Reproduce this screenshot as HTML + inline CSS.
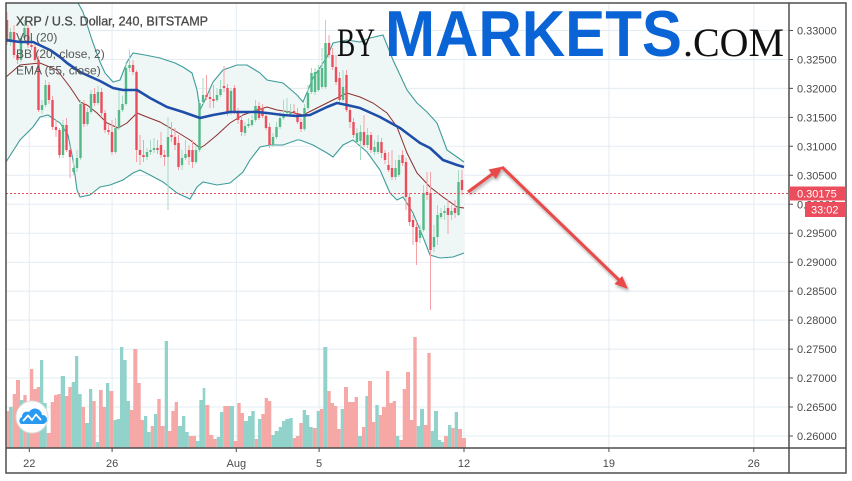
<!DOCTYPE html>
<html><head><meta charset="utf-8"><style>
html,body{margin:0;padding:0;background:#fff;}
svg{display:block;}
text{font-family:"Liberation Sans",sans-serif;}
</style></head><body>
<svg width="852" height="481" viewBox="0 0 852 481" xmlns="http://www.w3.org/2000/svg">
<defs>
<clipPath id="c"><rect x="6" y="3" width="783" height="445"/></clipPath>
<filter id="sh" x="-20%" y="-20%" width="140%" height="140%"><feGaussianBlur in="SourceAlpha" stdDeviation="1.5"/><feOffset dx="1" dy="2"/><feComponentTransfer><feFuncA type="linear" slope="0.35"/></feComponentTransfer><feMerge><feMergeNode/><feMergeNode in="SourceGraphic"/></feMerge></filter>
</defs>
<rect width="852" height="481" fill="#fff"/>
<g stroke="#e3ecf3" stroke-width="1">
<path d="M29.3 3V448M112.1 3V448M236.3 3V448M319.1 3V448M464 3V448M608.9 3V448M753.8 3V448"/>
<path d="M6 30.5H789M6 59.5H789M6 88.4H789M6 117.4H789M6 146.3H789M6 175.3H789M6 204.3H789M6 233.2H789M6 262.2H789M6 291.1H789M6 320.1H789M6 349.1H789M6 378H789M6 407H789M6 436H789"/>
</g>
<g clip-path="url(#c)">
<polygon fill="#eff6f6" points="6,-30 40,-20 70,-5 78,3 83,12 92,40 100,62 105,73 113,82 120,80 127,62 133,53 145,55 160,58 175,63 183,67 192,73 197,90 200,110 205,100 213,82 223,70 237,65 247,65 260,73 267,80 283,83 297,95 303,102 313,78 327,57 333,43 347,40 360,42 370,38 383,35 393,60 407,90 417,103 427,112 437,123 447,150 457,157 464,162 464,253 453,257 440,258 430,255 423,237 413,213 403,197 397,200 390,193 380,170 367,152 353,140 343,145 333,157 327,153 313,145 300,140 297,140 283,145 270,145 260,147 250,160 243,172 230,183 217,185 203,182 197,187 190,199 177,193 163,182 150,175 140,170 133,173 123,180 110,185 100,187 90,195 80,197 77,190 73,160 68,135 60,123 48,115 40,117 33,127 20,140 6,162"/>
<path fill="#f6a8a7" d="M6.7 411H9V448H6.7zM12.7 394H16V448H12.7zM16 380H20V448H16zM23.3 395H26.7V448H23.3zM30 369H33.3V448H30zM33.3 389H36.7V448H33.3zM36.7 387H40V448H36.7zM46.7 433H50.7V448H46.7zM50.7 402H54V448H50.7zM54 395H57.3V448H54zM57.3 394H60.7V448H57.3zM65 396H68.3V448H65zM68.3 387H71.7V448H68.3zM81.7 407H85V448H81.7zM92.3 401H95.7V448H92.3zM99 390H102.7V448H99zM102.7 407H106V448H102.7zM109.3 391H113.3V448H109.3zM130 410H133.3V448H130zM133.3 349H137.3V448H133.3zM137.3 383H140.7V448H137.3zM140.7 420H144V448H140.7zM150.7 426H154V448H150.7zM157.3 399H160.7V448H157.3zM160.7 426H164.7V448H160.7zM168 431H171.3V448H168zM171.3 411H174.7V448H171.3zM174.7 402H178V448H174.7zM188.7 436H196V448H188.7zM205.3 405H209.3V448H205.3zM209.3 435H213.3V448H209.3zM213.3 439H216.7V448H213.3zM223.3 406H230V448H223.3zM234 441H237.3V448H234zM237.3 403H240.7V448H237.3zM240.7 413H244V448H240.7zM254.7 439H258V448H254.7zM261.3 414H264.7V448H261.3zM264.7 398H268V448H264.7zM268 401H271.3V448H268zM292.7 438H296V448H292.7zM296 436H299.3V448H296zM299.3 423H302.7V448H299.3zM312.7 428H316.7V448H312.7zM320 409H323.3V448H320zM327.3 391H330.7V448H327.3zM330.7 403H334V448H330.7zM334 406H337.3V448H334zM337.3 429H340.7V448H337.3zM344 387H348V448H344zM348 402H354.7V448H348zM354.7 397H358V448H354.7zM362 427H365.3V448H362zM368 381H372V448H368zM372 422H375.3V448H372zM378.7 415H382V448H378.7zM382 407H386V448H382zM386 371H389.3V448H386zM389.3 403H392.7V448H389.3zM392.7 401H396V448H392.7zM399.3 440H402.7V448H399.3zM402.7 389H406V448H402.7zM406 372H410V448H406zM410 420H413.3V448H410zM413.3 337H416.7V448H413.3zM424 425H427.3V448H424zM427.3 353H430.7V448H427.3zM444 436H448V448H444zM451.3 428H454.7V448H451.3zM458 429H462V448H458zM462 438H466V448H462z"/>
<path fill="#91d3ca" d="M9 407H12.7V448H9zM20 400H23.3V448H20zM26.7 410H30V448H26.7zM40 360H43.3V448H40zM43.3 403H46.7V448H43.3zM60.7 376H65V448H60.7zM71.7 382H75V448H71.7zM75 356H78.3V448H75zM78.3 394H81.7V448H78.3zM85 423H89V448H85zM89 389H92.3V448H89zM95.7 442H99V448H95.7zM106 383H109.3V448H106zM113.3 420H116.7V448H113.3zM116.7 419H120V448H116.7zM120 347H123.3V448H120zM123.3 360H126.7V448H123.3zM126.7 401H130V448H126.7zM144 416H147.3V448H144zM147.3 432H150.7V448H147.3zM154 414H157.3V448H154zM164.7 341H168V448H164.7zM178 426H182V448H178zM182 416H185.3V448H182zM185.3 432H188.7V448H185.3zM196 441H199.3V448H196zM199.3 400H202.7V448H199.3zM202.7 388H205.3V448H202.7zM216.7 437H220V448H216.7zM220 412H223.3V448H220zM230 406H234V448H230zM244 421H248V448H244zM248 416H251.3V448H248zM251.3 411H254.7V448H251.3zM258 419H261.3V448H258zM271.3 435H274.7V448H271.3zM274.7 431H278.7V448H274.7zM278.7 427H282V448H278.7zM282 421H285.3V448H282zM285.3 419H289.3V448H285.3zM289.3 418H292.7V448H289.3zM302.7 410H306V448H302.7zM306 415H309.3V448H306zM309.3 427H312.7V448H309.3zM316.7 411H320V448H316.7zM323.3 347H327.3V448H323.3zM340.7 409H344V448H340.7zM358 436H362V448H358zM365.3 396H368V448H365.3zM375.3 405H378.7V448H375.3zM396 436H399.3V448H396zM416.7 426H420V448H416.7zM420 409H424V448H420zM430.7 431H434V448H430.7zM434 411H438V448H434zM438 440H441.3V448H438zM441.3 442H444V448H441.3zM448 425H451.3V448H448zM454.7 412H458V448H454.7z"/>
<polyline fill="none" stroke="#3d9c9a" stroke-width="1.1" points="6,-30 40,-20 70,-5 78,3 83,12 92,40 100,62 105,73 113,82 120,80 127,62 133,53 145,55 160,58 175,63 183,67 192,73 197,90 200,110 205,100 213,82 223,70 237,65 247,65 260,73 267,80 283,83 297,95 303,102 313,78 327,57 333,43 347,40 360,42 370,38 383,35 393,60 407,90 417,103 427,112 437,123 447,150 457,157 464,162"/>
<polyline fill="none" stroke="#3d9c9a" stroke-width="1.1" points="6,162 20,140 33,127 40,117 48,115 60,123 68,135 73,160 77,190 80,197 90,195 100,187 110,185 123,180 133,173 140,170 150,175 163,182 177,193 190,199 197,187 203,182 217,185 230,183 243,172 250,160 260,147 270,145 283,145 297,140 300,140 313,145 327,153 333,157 343,145 353,140 367,152 380,170 390,193 397,200 403,197 413,213 423,237 430,255 440,258 453,257 464,253"/>
<polyline fill="none" stroke="#8b2e2e" stroke-width="1" points="6,77 20,65 40,63 57,70 70,87 80,102 87,105 97,113 107,123 118,128 127,123 137,113 147,117 160,122 177,132 190,140 200,148 205,145 217,135 230,123 243,115 257,110 267,107 277,110 290,112 303,115 313,110 327,103 337,98 347,93 360,97 373,103 387,113 397,127 407,153 417,173 430,187 443,197 457,207 464,208"/>
<path stroke="#f4a2a8" stroke-width="1" fill="none" d="M7 12V45M14 25V58M17.5 50V64M28 25V48M31.5 40V50M35 44V62M38.5 56V112M49 82V104M52.5 96V130M56 120V137M59.5 128V158M66.5 118V152M70 146V178M84 100V127M94.5 88V106M101.5 88V116M105 110V133M108.5 125V135M112 120V155M133 60V75M136.5 70V162M140 135V165M143.5 140V162M157.5 140V154M161 132V158M164.5 150V166M171.5 122V142M175 128V150M178.5 135V170M189 145V165M192.5 140V168M206.5 75V100M210 90V108M213.5 85V108M224 66V92M227.5 84V116M234.5 85V114M238 108V124M241.5 115V136M259 102V120M262.5 104V118M266 112V130M269.5 123V148M294 104V116M297.5 108V124M301 118V132M329 35V58M332.5 48V70M336 55V85M339.5 72V104M346.5 70V112M350 105V128M353.5 118V138M364 115V147M371 132V153M381.5 138V158M385 150V164M388.5 152V172M392 150V180M402.5 150V166M406 158V210M409.5 193V226M413 215V245M416.5 222V265M427 172V200M430.5 172V310M448 200V234M455 200V218M462 170V195"/>
<path stroke="#a6dbc2" stroke-width="1" fill="none" d="M10.5 28V46M21 36V62M24.5 20V40M42 100V114M45.5 80V107M63 120V158M73.5 160V175M77 150V172M80.5 100V160M87.5 108V126M91 90V114M98 86V105M115.5 118V154M119 90V130M122.5 96V112M126 62V106M129.5 50V72M147 148V160M150.5 140V155M154 138V153M168 117V210M182 150V170M185.5 140V160M196 145V164M199.5 100V152M203 78V104M217 88V102M220.5 80V97M231 88V115M245 122V136M248.5 118V128M252 115V127M255.5 100V122M273 133V147M276.5 122V139M280 112V129M283.5 100V120M287 98V115M290.5 104V115M304.5 104V131M308 85V110M311.5 68V94M315 68V95M318.5 65V92M322 48V89M325.5 20V89M343 70V102M357 128V144M360.5 125V160M367.5 128V148M374.5 140V155M378 135V154M395.5 160V180M399 155V177M420 225V243M423.5 185V232M434 225V252M437.5 205V245M441 208V219M444.5 205V220M451.5 205V220M458.5 170V216"/>
<path fill="#eb4d5c" d="M5.8 20h2.4V42h-2.4zM12.8 32h2.4V55h-2.4zM16.3 55h2.4V60h-2.4zM26.8 28h2.4V45h-2.4zM30.3 45h2.4V47h-2.4zM33.8 47h2.4V60h-2.4zM37.3 60h2.4V110h-2.4zM47.8 85h2.4V100h-2.4zM51.3 100h2.4V127h-2.4zM54.8 127h2.4V130h-2.4zM58.3 130h2.4V155h-2.4zM65.3 125h2.4V150h-2.4zM68.8 150h2.4V157h-2.4zM82.8 104h2.4V124h-2.4zM93.3 94h2.4V103h-2.4zM100.3 92h2.4V113h-2.4zM103.8 113h2.4V130h-2.4zM107.3 130h2.4V132h-2.4zM110.8 132h2.4V152h-2.4zM131.8 65h2.4V72h-2.4zM135.3 72h2.4V150h-2.4zM138.8 150h2.4V155h-2.4zM142.3 155h2.4V157h-2.4zM156.3 148h2.4V150h-2.4zM159.8 145h2.4V155h-2.4zM163.3 155h2.4V157h-2.4zM170.3 135h2.4V137h-2.4zM173.8 137h2.4V145h-2.4zM177.3 143h2.4V167h-2.4zM187.8 150h2.4V157h-2.4zM191.3 150h2.4V162h-2.4zM205.3 95h2.4V97h-2.4zM208.8 97h2.4V99h-2.4zM212.3 99h2.4V101h-2.4zM222.8 86h2.4V88h-2.4zM226.3 88h2.4V113h-2.4zM233.3 88h2.4V112h-2.4zM236.8 112h2.4V120h-2.4zM240.3 120h2.4V132h-2.4zM257.8 106h2.4V118h-2.4zM261.3 108h2.4V116h-2.4zM264.8 116h2.4V128h-2.4zM268.3 127h2.4V145h-2.4zM292.8 111h2.4V113h-2.4zM296.3 113h2.4V122h-2.4zM299.8 122h2.4V129h-2.4zM327.8 43h2.4V55h-2.4zM331.3 55h2.4V67h-2.4zM334.8 67h2.4V82h-2.4zM338.3 78h2.4V100h-2.4zM345.3 75h2.4V110h-2.4zM348.8 110h2.4V122h-2.4zM352.3 122h2.4V135h-2.4zM362.8 132h2.4V145h-2.4zM369.8 135h2.4V150h-2.4zM380.3 142h2.4V153h-2.4zM383.8 153h2.4V160h-2.4zM387.3 165h2.4V170h-2.4zM390.8 168h2.4V177h-2.4zM401.3 155h2.4V163h-2.4zM404.8 162h2.4V197h-2.4zM408.3 197h2.4V222h-2.4zM411.8 220h2.4V227h-2.4zM415.3 227h2.4V242h-2.4zM425.8 192h2.4V195h-2.4zM429.3 193h2.4V250h-2.4zM446.8 208h2.4V215h-2.4zM453.8 208h2.4V213h-2.4zM460.8 180h2.4V190h-2.4z"/>
<path fill="#53b987" d="M9.3 32h2.4V42h-2.4zM19.8 38h2.4V60h-2.4zM23.3 28h2.4V38h-2.4zM40.8 105h2.4V110h-2.4zM44.3 85h2.4V105h-2.4zM61.8 125h2.4V155h-2.4zM72.3 168h2.4V172h-2.4zM75.8 158h2.4V168h-2.4zM79.3 104h2.4V158h-2.4zM86.3 112h2.4V124h-2.4zM89.8 94h2.4V112h-2.4zM96.8 92h2.4V103h-2.4zM114.3 128h2.4V152h-2.4zM117.8 110h2.4V128h-2.4zM121.3 104h2.4V110h-2.4zM124.8 68h2.4V104h-2.4zM128.3 65h2.4V68h-2.4zM145.8 152h2.4V157h-2.4zM149.3 150h2.4V152h-2.4zM152.8 148h2.4V150h-2.4zM166.8 137h2.4V157h-2.4zM180.8 158h2.4V165h-2.4zM184.3 154h2.4V158h-2.4zM194.8 150h2.4V162h-2.4zM198.3 103h2.4V150h-2.4zM201.8 95h2.4V102h-2.4zM215.8 95h2.4V100h-2.4zM219.3 89h2.4V95h-2.4zM229.8 91h2.4V113h-2.4zM243.8 126h2.4V133h-2.4zM247.3 124h2.4V126h-2.4zM250.8 120h2.4V125h-2.4zM254.3 106h2.4V120h-2.4zM271.8 137h2.4V145h-2.4zM275.3 127h2.4V137h-2.4zM278.8 118h2.4V127h-2.4zM282.3 114h2.4V118h-2.4zM285.8 111h2.4V113h-2.4zM289.3 112h2.4V114h-2.4zM303.3 108h2.4V129h-2.4zM306.8 93h2.4V108h-2.4zM310.3 73h2.4V92h-2.4zM313.8 72h2.4V92h-2.4zM317.3 70h2.4V90h-2.4zM320.8 68h2.4V87h-2.4zM324.3 43h2.4V87h-2.4zM341.8 87h2.4V100h-2.4zM355.8 133h2.4V142h-2.4zM359.3 132h2.4V141h-2.4zM366.3 135h2.4V145h-2.4zM373.3 147h2.4V152h-2.4zM376.8 142h2.4V152h-2.4zM394.3 168h2.4V177h-2.4zM397.8 160h2.4V175h-2.4zM418.8 230h2.4V238h-2.4zM422.3 193h2.4V230h-2.4zM432.8 237h2.4V247h-2.4zM436.3 215h2.4V237h-2.4zM439.8 213h2.4V217h-2.4zM443.3 211h2.4V213h-2.4zM450.3 211h2.4V215h-2.4zM457.3 182h2.4V215h-2.4z"/>
<polyline fill="none" stroke="#1f4ea8" stroke-width="2.6" stroke-linejoin="round" points="6,40 20,42 33,42 50,50 60,57 67,63 80,72 100,81 113,88 123,90 137,90 150,98 167,107 183,112 200,118 213,115 230,112 257,112 267,113 283,115 297,116 310,115 327,107 337,103 347,105 360,108 380,117 400,128 420,143 430,148 443,160 457,165 464,167"/>
<line x1="6" y1="193.5" x2="789" y2="193.5" stroke="#eb4d5c" stroke-width="1" stroke-dasharray="2,2"/>
</g>
<!-- arrows -->
<g filter="url(#sh)" fill="#e84848" stroke="#e84848">
<line x1="468" y1="192" x2="493" y2="173.5" stroke-width="3"/>
<polygon stroke="none" points="503,166.5 495.8,179 488.6,169.5"/>
<line x1="502" y1="167" x2="619" y2="280" stroke-width="3"/>
<polygon stroke="none" points="628,289 614.5,284 622.2,276"/>
</g>
<!-- legend -->
<text x="16" y="25.5" font-size="12.5" fill="#4a4a4a" stroke="#4a4a4a" stroke-width="0.3">XRP / U.S. Dollar, 240, BITSTAMP</text>
<text x="16" y="41.5" font-size="12" fill="#555">Vol (20)</text>
<text x="16" y="58" font-size="12" fill="#555">BB (20, close, 2)</text>
<text x="16" y="74.5" font-size="12" fill="#555">EMA (55, close)</text>
<!-- watermark -->
<text x="337" y="56" font-family="Liberation Serif, serif" font-size="40" fill="#111" textLength="38" lengthAdjust="spacingAndGlyphs" style="font-family:'Liberation Serif',serif">BY</text>
<text x="385" y="56" font-size="65" font-weight="bold" fill="#0a64d6" textLength="297" lengthAdjust="spacingAndGlyphs">MARKETS</text>
<text x="683" y="56" font-size="40" fill="#111" textLength="101" lengthAdjust="spacingAndGlyphs" style="font-family:'Liberation Serif',serif">.COM</text>
<!-- logo -->
<circle cx="32" cy="417" r="16" fill="#fff" stroke="#dcdcdc" stroke-width="1"/>
<path fill="#2a9af0" d="M21 424H43a4.5 4.5 0 0 0 -1 -9a7 7 0 0 0 -13 -3a5 5 0 0 0 -7 5a4 4 0 0 0 -1 7z"/>
<polyline fill="none" stroke="#fff" stroke-width="1.8" stroke-linejoin="round" points="23,421 28,415.5 32,420 36,414.5 41,420"/>
<!-- frame -->
<g stroke="#4e4e4e" stroke-width="1.5" fill="none">
<rect x="6" y="3" width="840" height="470"/>
<line x1="789" y1="3" x2="789" y2="473"/>
<line x1="6" y1="448" x2="846" y2="448"/>
</g>
<g stroke="#4e4e4e" stroke-width="1">
<path d="M789 30.5h4M789 59.5h4M789 88.4h4M789 117.4h4M789 146.3h4M789 175.3h4M789 204.3h4M789 233.2h4M789 262.2h4M789 291.1h4M789 320.1h4M789 349.1h4M789 378h4M789 407h4M789 436h4"/>
<path d="M29.3 448v4M112.1 448v4M236.3 448v4M319.1 448v4M464 448v4M608.9 448v4M753.8 448v4"/>
</g>
<g font-size="11" fill="#4a4a4a">
<text x="797" y="34.5">0.33000</text>
<text x="797" y="63.5">0.32500</text>
<text x="797" y="92.4">0.32000</text>
<text x="797" y="121.4">0.31500</text>
<text x="797" y="150.3">0.31000</text>
<text x="797" y="179.3">0.30500</text>
<text x="797" y="208.3">0.30000</text>
<text x="797" y="237.2">0.29500</text>
<text x="797" y="266.2">0.29000</text>
<text x="797" y="295.1">0.28500</text>
<text x="797" y="324.1">0.28000</text>
<text x="797" y="353.1">0.27500</text>
<text x="797" y="382">0.27000</text>
<text x="797" y="411">0.26500</text>
<text x="797" y="440">0.26000</text>
</g>
<g font-size="11" fill="#4a4a4a" text-anchor="middle">
<text x="29.3" y="467">22</text>
<text x="112.1" y="467">26</text>
<text x="236.3" y="467">Aug</text>
<text x="319.1" y="467">5</text>
<text x="464" y="467">12</text>
<text x="608.9" y="467">19</text>
<text x="753.8" y="467">26</text>
</g>
<rect x="789" y="186.5" width="57" height="14" fill="#eb4d5c"/>
<text x="797" y="197.5" font-size="11" fill="#fff">0.30175</text>
<rect x="805" y="202" width="41" height="15" fill="#eb4d5c"/>
<text x="811" y="213.5" font-size="11" fill="#fff">33:02</text>
</svg>
</body></html>
